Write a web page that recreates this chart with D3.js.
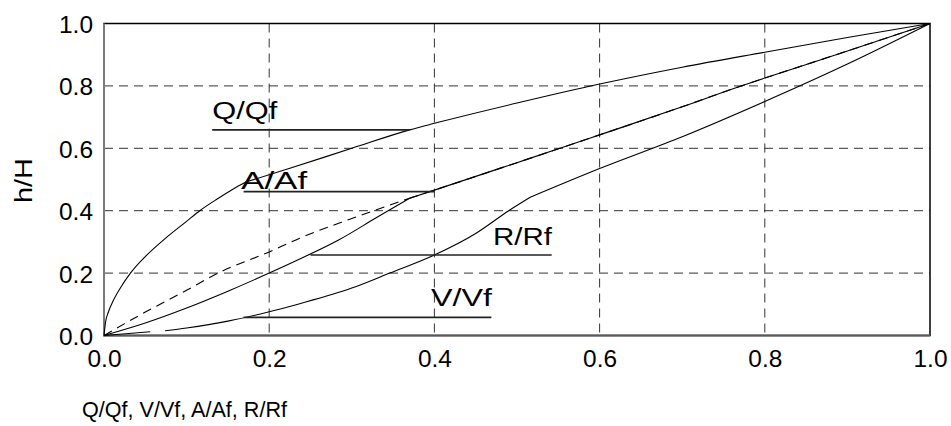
<!DOCTYPE html>
<html>
<head>
<meta charset="utf-8">
<script src="https://cdn.jsdelivr.net/npm/d3@7"></script>
<style>
  html, body { margin: 0; padding: 0; background: #fff; }
  svg { display: block; }
  text { font-family: "Liberation Sans", Arial, sans-serif; fill: #000; }
</style>
</head>
<body>
<svg id="chart" width="951" height="426"></svg>
<script>
// Relative depth h/H against the partial-flow ratios.
// Each series is a list of smooth pieces; consecutive pieces meet at a corner.
const qCurve = [
  [[0,0],[0.002,0.045],[0.005,0.073],[0.01,0.105],[0.02,0.153],[0.032,0.2],[0.05,0.253],
   [0.075,0.313],[0.1,0.366],[0.116,0.4],[0.135,0.434],[0.156,0.469],[0.172,0.492]],
  [[0.172,0.492],[0.225,0.536],[0.3,0.6],[0.37,0.659],[0.4,0.68],[0.5,0.745],[0.6,0.806],
   [0.7,0.86],[0.8,0.908],[0.9,0.955],[1,1]]
];
const aCurve = [
  [[0,0],[0.025,0.038],[0.05,0.075],[0.1,0.145],[0.138,0.2],[0.2,0.268],[0.237,0.312],
   [0.3,0.375],[0.37,0.44]],
  [[0.37,0.44],[0.4,0.466],[0.5,0.554],[0.552,0.6],[0.6,0.643],[0.7,0.733],[0.766,0.795],
   [0.8,0.825],[0.9,0.912],[1,1]]
];
const rCurve = [
  [[0,0],[0.05,0.04],[0.1,0.088],[0.15,0.142],[0.2,0.2],[0.237,0.245],[0.284,0.306],
   [0.33,0.378],[0.37,0.44]],
  [[0.37,0.44],[0.4,0.466],[0.5,0.554],[0.552,0.6],[0.6,0.643],[0.7,0.733],[0.766,0.795],
   [0.8,0.825],[0.9,0.912],[1,1]]
];
const vCurve = [
  [[0,0],[0.056,0.012]],
  [[0.074,0.015],[0.1,0.024],[0.15,0.046],[0.2,0.076],[0.237,0.102],[0.3,0.152],[0.346,0.2],
   [0.4,0.258],[0.45,0.327],[0.49,0.4],[0.516,0.443]],
  [[0.516,0.443],[0.6,0.535],[0.7,0.637],[0.8,0.75],[0.9,0.87],[1,1]]
];

// Curve labels with their leader lines (data units)
const labelNames  = ["Q/Qf", "A/Af", "R/Rf", "V/Vf"];
const leaderX0    = [0.131, 0.169, 0.25, 0.169];
const leaderX1    = [0.37, 0.4, 0.542, 0.469];
const leaderY     = [0.659, 0.461, 0.258, 0.058];
const labelX      = [0.131, 0.166, 0.471, 0.396];
const labelY      = [0.693, 0.47, 0.29, 0.095];
const labelWidths = [65, 66, 59, 61];

const xTicks = [0, 0.2, 0.4, 0.6, 0.8, 1.0];
const yTicks = [0, 0.2, 0.4, 0.6, 0.8, 1.0];
const gridVals = [0.2, 0.4, 0.6, 0.8];

const xTitle = "Q/Qf, V/Vf, A/Af, R/Rf";
const yTitle = "h/H";

const svg = d3.select("#chart");
const plotL = 104, plotR = 930, plotT = 23.5, plotB = 335.5;
const x = d3.scaleLinear().domain([0, 1]).range([plotL, plotR]);
const y = d3.scaleLinear().domain([0, 1]).range([plotB, plotT]);

// dashed grid
const grid = svg.append("g").attr("stroke", "#333").attr("stroke-width", 1)
  .attr("stroke-dasharray", "9,6").attr("fill", "none");
grid.selectAll("line.v").data(gridVals).join("line").attr("class", "v")
  .attr("x1", d => x(d)).attr("x2", d => x(d)).attr("y1", plotT).attr("y2", plotB);
grid.selectAll("line.h").data(gridVals).join("line").attr("class", "h")
  .attr("x1", plotL).attr("x2", plotR).attr("y1", d => y(d)).attr("y2", d => y(d));

// frame: black top/right, grey axes on left/bottom
svg.append("rect").attr("x", plotL).attr("y", plotT).attr("width", plotR - plotL).attr("height", plotB - plotT)
  .attr("fill", "none").attr("stroke", "#000").attr("stroke-width", 1.5);
svg.append("line").attr("x1", plotL).attr("x2", plotL).attr("y1", plotT).attr("y2", plotB + 1)
  .attr("stroke", "#7a7a7a").attr("stroke-width", 2);
svg.append("line").attr("x1", plotL).attr("x2", plotR).attr("y1", plotB).attr("y2", plotB)
  .attr("stroke", "#5a5a5a").attr("stroke-width", 2);

// curves
const line = d3.line().curve(d3.curveMonotoneX).x(d => x(d[0])).y(d => y(d[1]));
const curves = svg.append("g").attr("fill", "none").attr("stroke", "#000").attr("stroke-width", 1.1);
[qCurve, rCurve, vCurve].forEach(pieces =>
  curves.append("path").attr("d", pieces.map(p => line(p)).join("")));
curves.append("path").attr("d", aCurve.map(p => line(p)).join(""))
  .attr("stroke-dasharray", "9,6");

// leader lines and labels
const lab = svg.append("g");
lab.selectAll("line").data(labelNames).join("line")
  .attr("x1", (d, i) => x(leaderX0[i])).attr("x2", (d, i) => x(leaderX1[i]))
  .attr("y1", (d, i) => y(leaderY[i])).attr("y2", (d, i) => y(leaderY[i]))
  .attr("stroke", "#222").attr("stroke-width", 1.6);
lab.selectAll("text").data(labelNames).join("text")
  .attr("x", (d, i) => x(labelX[i])).attr("y", (d, i) => y(labelY[i]))
  .attr("font-size", 23)
  .attr("textLength", (d, i) => labelWidths[i]).attr("lengthAdjust", "spacingAndGlyphs")
  .text(d => d);

// axes (labels only)
const fmt = d3.format(".1f");
const xAxis = svg.append("g").attr("transform", `translate(0,${plotB})`)
  .call(d3.axisBottom(x).tickValues(xTicks).tickFormat(fmt).tickSize(0).tickPadding(0));
xAxis.select(".domain").remove();
xAxis.selectAll("text").attr("font-family", null).attr("font-size", 24).attr("fill", "#000")
  .attr("dy", null).attr("y", 31).attr("textLength", 34).attr("lengthAdjust", "spacingAndGlyphs");

const yAxis = svg.append("g").attr("transform", `translate(${plotL},0)`)
  .call(d3.axisLeft(y).tickValues(yTicks).tickFormat(fmt).tickSize(0).tickPadding(0));
yAxis.select(".domain").remove();
yAxis.selectAll("text").attr("font-family", null).attr("font-size", 24).attr("fill", "#000")
  .attr("dy", null).attr("x", -11).attr("y", 9).attr("textLength", 34).attr("lengthAdjust", "spacingAndGlyphs");

// axis titles
svg.append("text").attr("x", 82).attr("y", 417).attr("font-size", 22)
  .attr("textLength", 205).attr("lengthAdjust", "spacingAndGlyphs").text(xTitle);
svg.append("text").attr("transform", "translate(31.5,180.5) rotate(-90)")
  .attr("text-anchor", "middle").attr("font-size", 23)
  .attr("textLength", 45).attr("lengthAdjust", "spacingAndGlyphs").text(yTitle);
</script>
</body>
</html>
